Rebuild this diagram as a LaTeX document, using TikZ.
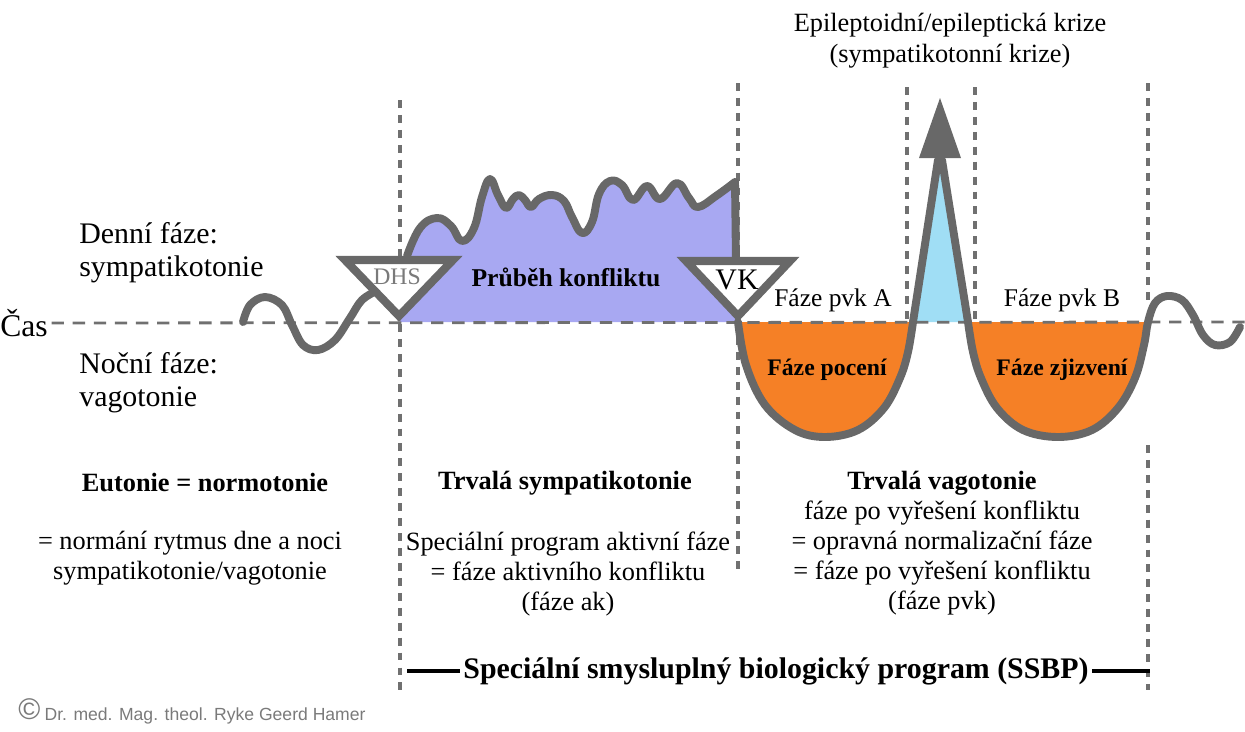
\documentclass[tikz,border=0pt]{standalone}
\usepackage{fontspec}
\setmainfont{Liberation Serif}
\newfontfamily\copyfont{Liberation Sans}
\usetikzlibrary{positioning}

\definecolor{curvegray}{RGB}{104,104,104}
\definecolor{dashgray}{RGB}{112,112,112}
\definecolor{conflictfill}{RGB}{168,168,242}
\definecolor{healfill}{RGB}{245,128,38}
\definecolor{crisisfill}{RGB}{160,222,245}
\definecolor{hamergray}{RGB}{122,122,122}

\tikzset{
  curve/.style={line width=4.5pt, draw=curvegray, line join=round, line cap=round},
  marker/.style={line width=4.6pt, draw=curvegray, fill=white, line join=miter},
  phaseline/.style={draw=dashgray, line width=2.2pt, dash pattern=on 4.5pt off 4pt},
  timeline/.style={draw=dashgray, line width=1.6pt, dash pattern=on 7pt off 5pt},
  lbl/.style={inner sep=0pt, align=center, font=\fontsize{15}{17}\selectfont},
  boldlbl/.style={inner sep=0pt, align=center, font=\fontsize{15}{17}\selectfont\bfseries},
  sidelbl/.style={inner sep=0pt, align=left, anchor=west, font=\fontsize{17}{18.7}\selectfont},
}

\def\conflictpts{(407,256) (420,228) (437,218) (451,226) (462,241) (474,228) (482,197) (490,179) (498,195) (506,208) (513,199) (519,195) (525,200) (531,207) (539,199) (552,195) (564,201) (572,217) (582,233) (592,222) (599,194) (610,181) (622,185) (633,200) (647,186) (660,199) (677,183) (689,198) (698,207) (716,196) (735,182)}

\begin{document}
\begin{tikzpicture}[x=0.02cm, y=-0.02cm]
\useasboundingbox (0,0) rectangle (1245,731);

\def\yt{322}

\draw[phaseline] (400,100) -- (400,690);
\draw[phaseline] (738,83) -- (738,575);
\draw[phaseline] (907,87) -- (907,\yt);
\draw[phaseline] (975,87) -- (975,\yt);
\draw[phaseline] (1148,83) -- (1148,305);
\draw[phaseline] (1148,445) -- (1148,690);

\fill[conflictfill] plot[smooth, tension=0.7] coordinates {\conflictpts} -- (736,\yt) -- (400,\yt) -- cycle;
\fill[healfill] plot[smooth, tension=0.6] coordinates {(738,322) (746,365) (765,405) (795,430) (825,437) (858,430) (884,408) (900,378) (908,352) (913,322)} -- cycle;
\fill[healfill] plot[smooth, tension=0.6] coordinates {(968,322) (973,352) (981,378) (997,408) (1023,430) (1058,437) (1092,430) (1118,408) (1135,378) (1144,345) (1148,322)} -- cycle;
\fill[crisisfill] (913,\yt) -- (939,158) -- (968,\yt) -- cycle;

\node[inner sep=0pt, anchor=west, font=\fontsize{18}{18}\selectfont] (time) at (0,323) {Čas};
\coordinate (axisend) at (1245,\yt);
\draw[timeline] ([xshift=2pt]time.east) -- (axisend);

\draw[curve] plot[smooth, tension=0.6] coordinates {(243,322) (250,305) (265,297) (282,305) (292,325) (303,345) (318,350) (335,340) (350,318) (362,300) (378,290)};
\draw[curve] plot[smooth, tension=0.7] coordinates {\conflictpts} -- (736,262);
\draw[curve] plot[smooth, tension=0.6] coordinates {(738,322) (746,365) (765,405) (795,430) (825,437) (858,430) (884,408) (900,378) (908,352) (913,322)} -- (938,160);
\draw[curve] (942,160) -- plot[smooth, tension=0.6] coordinates {(968,322) (973,352) (981,378) (997,408) (1023,430) (1058,437) (1092,430) (1118,408) (1135,378) (1144,345) (1148,322) (1155,303) (1167,296) (1182,300) (1193,315) (1203,335) (1215,345) (1230,342) (1240,327)};
\fill[curvegray] (919,158) -- (961,158) -- (940,98) -- cycle;

\draw[marker] (345,260) -- (453,260) -- (399,316) -- cycle;
\draw[marker] (686,261) -- (790,261) -- (738,316) -- cycle;

\node[lbl, text=hamergray, font=\fontsize{13.5}{15}\selectfont] (dhs) at (397,277) {DHS};
\node[lbl, font=\fontsize{17}{18}\selectfont] (vk) at (737,280) {VK};

\node[lbl, font=\fontsize{15}{17.6}\selectfont] (crisis) at (950,41) {Epileptoidní/epileptická krize\\(sympatikotonní krize)};
\node[sidelbl] (day) at (79,253) {Denní fáze:\\sympatikotonie};
\node[sidelbl] (night) at (79,383) {Noční fáze:\\vagotonie};

\node[boldlbl, font=\fontsize{14.6}{17}\selectfont\bfseries] (course) at (566,277) {Průběh konfliktu};
\node[lbl, font=\fontsize{14.5}{17}\selectfont] (pvka) at (833,300) {Fáze pvk A};
\node[lbl, font=\fontsize{14.5}{17}\selectfont] (pvkb) at (1062,300) {Fáze pvk B};
\node[boldlbl, font=\fontsize{13.5}{16}\selectfont\bfseries] (sweat) at (827,370) {Fáze pocení};
\node[boldlbl, font=\fontsize{13.5}{16}\selectfont\bfseries] (scar) at (1062,370) {Fáze zjizvení};

\node[boldlbl] (eutonie) at (205,483) {Eutonie = normotonie};
\node[lbl] (rhythm) at (190,558) {= normání rytmus dne a noci\\sympatikotonie/vagotonie};
\node[boldlbl] (sympa) at (565,483) {Trvalá sympatikotonie};
\node[lbl] (active) at (568,574) {Speciální program aktivní fáze\\= fáze aktivního konfliktu\\(fáze ak)};
\node[lbl] (vago) at (942,543) {\textbf{Trvalá vagotonie}\\fáze po vyřešení konfliktu\\= opravná normalizační fáze\\= fáze po vyřešení konfliktu\\(fáze pvk)};

\node[inner sep=0pt, inner xsep=2pt, font=\fontsize{17}{19}\selectfont\bfseries] (ssbp) at (776,671) {Speciální smysluplný biologický program (SSBP)};
\coordinate (ssbpl) at (407,671);
\coordinate (ssbpr) at (1150,671);
\draw[line width=1.8pt] (ssbpl) -- (ssbp.west);
\draw[line width=1.8pt] (ssbp.east) -- (ssbpr);

\node[inner sep=0pt, anchor=west, text=hamergray, font=\copyfont\fontsize{17}{17}\selectfont] (copy) at (18,709) {©};
\node[inner sep=0pt, right=2pt of copy, yshift=-4pt, text=hamergray, font=\copyfont\fontsize{10}{12}\selectfont] (author) {Dr. med. Mag. theol. Ryke Geerd Hamer};

\end{tikzpicture}
\end{document}
